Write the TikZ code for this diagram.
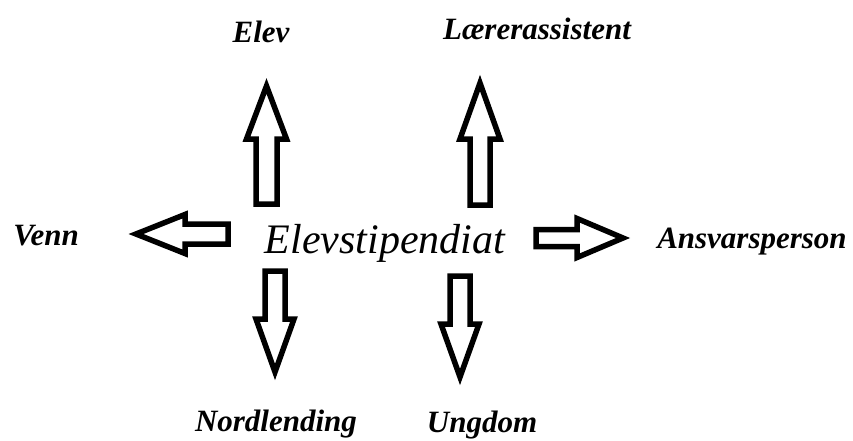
\documentclass[tikz,border=0pt]{standalone}
\usepackage{fontspec}
\setmainfont{Liberation Serif}
\usepackage{tikz}

\tikzset{
  role/.style={font=\fontsize{31}{31}\selectfont\bfseries\itshape, inner sep=0pt, anchor=base},
  main/.style={font=\fontsize{42}{42}\selectfont\itshape, inner sep=0pt, anchor=base},
  blockarrow/.style={draw=black, fill=white, line width=5.5pt, line join=miter}
}
% #1 tail, #2 angle, #3 length, #4 head length, #5 shaft half, #6 head half
\newcommand{\hollowarrow}[6]{%
  \draw[blockarrow, shift={#1}, rotate=#2]
    (0,-#5) -- (#3-#4,-#5) -- (#3-#4,-#6) -- (#3,0) -- (#3-#4,#6) -- (#3-#4,#5) -- (0,#5) -- cycle;}

\begin{document}
\begin{tikzpicture}[x=1pt, y=1pt]
 \useasboundingbox (0,0) rectangle (853,440);

 \node[main] (stip) at (385,187) {Elevstipendiat};

 \node[role] (elev) at (261,397) {Elev};
 \node[role] (assist) at (537,400) {Lærerassistent};
 \node[role] (venn) at (46,195) {Venn};
 \node[role] (ansvar) at (752,192) {Ansvarsperson};
 \node[role] (nord) at (276,9) {Nordlending};
 \node[role] (ungdom) at (482,8) {Ungdom};

 \coordinate (t-elev) at (266.5,236);
 \coordinate (t-assist) at (480,235);
 \coordinate (t-venn) at (228,206);
 \coordinate (t-ansvar) at (536,202);
 \coordinate (t-nord) at (275,169);
 \coordinate (t-ungdom) at (460,164);

 \hollowarrow{(t-elev)}{90}{118}{53}{10.5}{20}
 \hollowarrow{(t-assist)}{90}{122}{56}{10}{20}
 \hollowarrow{(t-venn)}{180}{92}{49}{10}{19.5}
 \hollowarrow{(t-ansvar)}{0}{87}{46}{8.5}{19.5}
 \hollowarrow{(t-nord)}{-90}{101}{53}{10}{19}
 \hollowarrow{(t-ungdom)}{-90}{101}{53}{10}{19}
\end{tikzpicture}
\end{document}
